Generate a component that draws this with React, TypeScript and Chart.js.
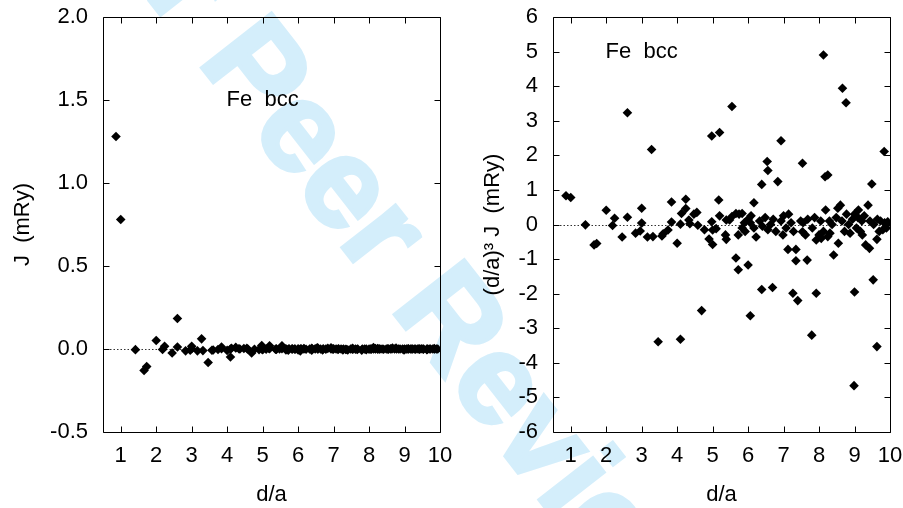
import React, { useEffect, useRef } from 'react';
import { Chart, registerables } from 'chart.js';

Chart.register(...registerables);

// Neighbour-shell distances d/a (bcc Fe)
const shellD = [
  0.866, 1.000, 1.414, 1.658, 1.732, 2.000, 2.179, 2.236, 2.449, 2.598,
  2.598, 2.828, 2.958, 3.000, 3.000, 3.162, 3.279, 3.317, 3.464, 3.571,
  3.606, 3.742, 3.841, 3.841, 4.000, 4.093, 4.093, 4.123, 4.243, 4.243,
  4.330, 4.359, 4.472, 4.555, 4.583, 4.690, 4.770, 4.899, 4.975, 4.975,
  5.000, 5.000, 5.099, 5.172, 5.196, 5.196, 5.362, 5.385, 5.385, 5.477,
  5.545, 5.545, 5.657, 5.657, 5.723, 5.723, 5.745, 5.831, 5.831, 5.895,
  5.916, 6.000, 6.000, 6.062, 6.062, 6.083, 6.164, 6.164, 6.225, 6.325,
  6.384, 6.384, 6.403, 6.481, 6.538, 6.557, 6.557, 6.633, 6.689, 6.708,
  6.782, 6.837, 6.928, 6.928, 6.982, 7.000, 7.071, 7.124, 7.141, 7.211,
  7.263, 7.280, 7.348, 7.348, 7.399, 7.483, 7.533, 7.533, 7.550, 7.616,
  7.665, 7.681, 7.794, 7.810, 7.874, 7.921, 7.921, 8.000, 8.047, 8.062,
  8.124, 8.124, 8.170, 8.185, 8.246, 8.246, 8.292, 8.307, 8.367, 8.411,
  8.485, 8.529, 8.544, 8.602, 8.646, 8.660, 8.718, 8.761, 8.775, 8.832,
  8.874, 8.944, 8.986, 9.000, 9.000, 9.055, 9.097, 9.110, 9.165, 9.206,
  9.220, 9.274, 9.314, 9.381, 9.421, 9.434, 9.487, 9.526, 9.539, 9.631,
  9.631, 9.644, 9.695, 9.734, 9.798, 9.836, 9.849, 9.899, 9.937,
];

// J (mRy), left panel
const jValues = [
  1.28, 0.78, -0.004, -0.129, -0.106, 0.051, -0.003, 0.016, -0.024, 0.184,
  0.012, -0.011, -0.007, 0.017, 0.0015, -0.011, 0.061, -0.0096, -0.081, -0.0073,
  -0.0058, -0.0031, 0.0115, 0.0012, -0.0084, -0.048, 0.0001, 0.0046, 0.0096, 0.006,
  0.0016, 0.0002, 0.0034, 0.0037, -0.0002, -0.0241, -0.0014, -0.0036, 0.0208, 0.0006,
  -0.0046, -0.0013, -0.0009, 0.0051, 0.019, 0.0018, -0.0019, -0.0028, 0.0008, 0.0008,
  0.02, 0.0013, -0.0054, 0.0018, -0.007, -0.0016, 0.0016, 0.0016, -0.0005, 0.0002,
  -0.001, -0.0054, 0.0007, -0.0118, 0.0002, 0.0011, 0.0027, -0.0004, -0.0015, 0.0004,
  -0.0072, 0.0045, -0.0002, 0.0007, 0.0065, 0.0055, -0.0005, 0.0, -0.0061, 0.0005,
  -0.0006, 0.0039, 0.0073, 0.0003, -0.0009, 0.0007, -0.0003, -0.002, 0.0008, 0.0001,
  -0.0052, -0.0005, -0.0026, -0.0018, -0.0054, 0.0002, 0.0041, -0.0005, 0.0001, -0.0007,
  -0.0023, 0.0003, -0.0068, -0.0002, 0.0004, -0.004, -0.0009, -0.0006, 0.0002, -0.0008,
  0.0091, -0.0004, 0.0025, 0.0008, 0.0026, -0.0006, 0.0002, -0.0004, 0.0, -0.0015,
  0.0003, 0.0008, -0.0009, 0.0009, 0.0002, 0.0061, -0.0003, 0.0052, 0.0004, 0.0,
  -0.0004, 0.0002, -0.0064, -0.0027, 0.0004, -0.0001, 0.0003, 0.0006, -0.0003, 0.0001,
  -0.0004, 0.0003, -0.0007, 0.0007, -0.0008, 0.0001, 0.0014, -0.0019, 0.0, -0.004,
  -0.0005, 0.0002, -0.0002, 0.0001, -0.0002, 0.0022, 0.0001, -0.0001, 0.0001,
];

// (d/a)^3 J (mRy), right panel
const scaledJValues = [
  0.83, 0.78, -0.01, -0.59, -0.55, 0.41, -0.03, 0.18, -0.36, 3.23,
  0.21, -0.25, -0.19, 0.47, 0.04, -0.36, 2.17, -0.35, -3.39, -0.33,
  -0.27, -0.16, 0.65, 0.07, -0.54, -3.32, 0.01, 0.32, 0.73, 0.46,
  0.13, 0.02, 0.30, 0.35, -0.02, -2.49, -0.15, -0.42, 2.56, 0.08,
  -0.58, -0.16, -0.12, 0.71, 2.66, 0.25, -0.30, -0.43, 0.13, 0.13,
  3.41, 0.23, -0.97, 0.32, -1.31, -0.30, 0.30, 0.32, -0.10, 0.05,
  -0.20, -1.17, 0.15, -2.64, 0.05, 0.25, 0.63, -0.10, -0.36, 0.10,
  -1.88, 1.16, -0.05, 0.20, 1.82, 1.56, -0.15, 0.00, -1.82, 0.15,
  -0.20, 1.24, 2.42, 0.10, -0.30, 0.25, -0.10, -0.72, 0.30, 0.05,
  -1.99, -0.20, -1.05, -0.72, -2.20, 0.10, 1.77, -0.21, 0.05, -0.30,
  -1.03, 0.15, -3.20, -0.10, 0.20, -1.99, -0.45, -0.30, 0.10, -0.40,
  4.90, -0.20, 1.38, 0.42, 1.43, -0.35, 0.10, -0.25, 0.00, -0.88,
  0.20, 0.47, -0.54, 0.56, 0.10, 3.94, -0.20, 3.52, 0.30, 0.00,
  -0.25, 0.15, -4.66, -1.95, 0.30, -0.10, 0.20, 0.42, -0.20, 0.10,
  -0.30, 0.25, -0.59, 0.56, -0.69, 0.10, 1.17, -1.60, 0.00, -3.53,
  -0.43, 0.15, -0.20, 0.10, -0.15, 2.11, 0.05, -0.10, 0.08,
];

const xTickValues = [1, 2, 3, 4, 5, 6, 7, 8, 9, 10];
const leftYTickValues = [-0.5, 0.0, 0.5, 1.0, 1.5, 2.0];
const rightYTickValues = [-6, -5, -4, -3, -2, -1, 0, 1, 2, 3, 4, 5, 6];

const xTitle = 'd/a';
const leftYTitle = 'J  (mRy)';
const rightYTitle = '(d/a)\u00B3 J  (mRy)';
const panelLabel = 'Fe  bcc';
const leftLabelAt = { x: 5.0, y: 1.5 };
const rightLabelAt = { x: 3.0, y: 5.0 };
const watermarkText = 'For Peer Review';

const FONT = 'Liberation Sans';
const FONT_SIZE = 22;

const gnuplotFrame = {
  id: 'gnuplotFrame',
  beforeDatasetsDraw(chart: any) {
    const { ctx, chartArea: a, scales } = chart;
    const y0 = Math.round(scales.y.getPixelForValue(0)) + 0.5;
    ctx.save();
    ctx.strokeStyle = '#333';
    ctx.lineWidth = 1;
    ctx.setLineDash([1.5, 2]);
    ctx.beginPath();
    ctx.moveTo(a.left, y0);
    ctx.lineTo(a.right, y0);
    ctx.stroke();
    ctx.restore();
  },
  afterDatasetsDraw(chart: any, _args: any, opts: any) {
    const { ctx, chartArea: a, scales } = chart;
    const L = Math.round(a.left) + 0.5;
    const R = Math.round(a.right) + 0.5;
    const T = Math.round(a.top) + 0.5;
    const B = Math.round(a.bottom) + 0.5;
    const tl = 6;
    ctx.save();
    ctx.strokeStyle = '#000';
    ctx.lineWidth = 1;
    ctx.beginPath();
    ctx.rect(L, T, R - L, B - T);
    for (const t of scales.x.ticks) {
      const x = Math.round(scales.x.getPixelForValue(t.value)) + 0.5;
      ctx.moveTo(x, B); ctx.lineTo(x, B - tl);
      ctx.moveTo(x, T); ctx.lineTo(x, T + tl);
    }
    for (const t of scales.y.ticks) {
      const y = Math.round(scales.y.getPixelForValue(t.value)) + 0.5;
      ctx.moveTo(L, y); ctx.lineTo(L + tl, y);
      ctx.moveTo(R, y); ctx.lineTo(R - tl, y);
    }
    ctx.stroke();
    if (opts && opts.label) {
      ctx.fillStyle = '#000';
      ctx.font = `${FONT_SIZE}px "${FONT}"`;
      ctx.textAlign = 'center';
      ctx.textBaseline = 'middle';
      ctx.fillText(opts.label, scales.x.getPixelForValue(opts.at.x), scales.y.getPixelForValue(opts.at.y));
    }
    ctx.restore();
  },
};

function makeConfig(
  yValues: number[],
  yMin: number,
  yMax: number,
  yTicks: number[],
  yFmt: (v: number) => string,
  yTitle: string,
  titlePad: number,
  padding: any,
  yWidth: number,
  label: string,
  at: { x: number; y: number }
): any {
  const font = { family: FONT, size: FONT_SIZE };
  return {
    type: 'scatter',
    data: {
      datasets: [
        {
          data: shellD.map((d, i) => ({ x: d, y: yValues[i] })),
          pointStyle: 'rectRot',
          pointRadius: 4.8,
          pointBackgroundColor: '#000',
          pointBorderColor: '#000',
          pointBorderWidth: 0,
          showLine: false,
        },
      ],
    },
    options: {
      responsive: false,
      animation: false,
      events: [],
      devicePixelRatio: 1,
      layout: { padding },
      plugins: {
        legend: { display: false },
        tooltip: { enabled: false },
        gnuplotFrame: { label, at },
      },
      scales: {
        x: {
          type: 'linear',
          min: 0.5,
          max: 10,
          grid: { display: false, drawTicks: false },
          border: { display: false },
          afterBuildTicks: (s: any) => {
            s.ticks = xTickValues.map((v) => ({ value: v }));
          },
          afterFit: (s: any) => {
            s.height = 76;
            s.paddingLeft = 0;
            s.paddingRight = 0;
          },
          ticks: {
            color: '#000',
            font,
            padding: 11,
            maxRotation: 0,
            autoSkip: false,
            callback: (v: any) => String(v),
          },
          title: {
            display: true,
            text: xTitle,
            color: '#000',
            font,
            padding: { top: 0, bottom: 0 },
          },
        },
        y: {
          type: 'linear',
          min: yMin,
          max: yMax,
          grid: { display: false, drawTicks: false },
          border: { display: false },
          afterBuildTicks: (s: any) => {
            s.ticks = yTicks.map((v) => ({ value: v }));
          },
          afterFit: (s: any) => {
            s.width = yWidth;
            s.paddingTop = 0;
            s.paddingBottom = 0;
          },
          ticks: {
            color: '#000',
            font,
            padding: 15,
            autoSkip: false,
            callback: (v: any) => yFmt(Number(v)),
          },
          title: {
            display: true,
            text: yTitle,
            color: '#000',
            font,
            padding: { top: titlePad, bottom: 0 },
          },
        },
      },
    },
    plugins: [gnuplotFrame],
  };
}

export default function App() {
  const leftRef = useRef<HTMLCanvasElement>(null);
  const rightRef = useRef<HTMLCanvasElement>(null);

  useEffect(() => {
    const left = new Chart(
      leftRef.current as HTMLCanvasElement,
      makeConfig(
        jValues, -0.5, 2.0, leftYTickValues, (v) => v.toFixed(1), leftYTitle, 9.5,
        { left: 0, top: 17, right: 463, bottom: 0 }, 103, panelLabel, leftLabelAt
      )
    );
    const right = new Chart(
      rightRef.current as HTMLCanvasElement,
      makeConfig(
        scaledJValues, -6, 6, rightYTickValues, (v) => String(v), rightYTitle, 29,
        { left: 451, top: 17, right: 13, bottom: 0 }, 102, panelLabel, rightLabelAt
      )
    );
    return () => {
      left.destroy();
      right.destroy();
    };
  }, []);

  const canvasStyle: React.CSSProperties = {
    position: 'absolute',
    left: 0,
    top: 0,
    width: 903,
    height: 508,
  };

  return (
    <div
      style={{
        position: 'absolute',
        left: 0,
        top: 0,
        width: 903,
        height: 508,
        overflow: 'hidden',
        background: '#fff',
      }}
    >
      <div
        style={{
          position: 'absolute',
          left: 133,
          top: -196,
          fontFamily: '"Liberation Sans", Arial, sans-serif',
          fontWeight: 'bold',
          fontSize: 128,
          lineHeight: '128px',
          whiteSpace: 'nowrap',
          color: 'rgb(212, 238, 251)',
          WebkitTextStroke: '4px rgb(212, 238, 251)',
          transformOrigin: '0 0',
          transform: 'rotate(52deg)',
        }}
      >
        {watermarkText}
      </div>
      <canvas ref={leftRef} width={903} height={508} style={canvasStyle} />
      <canvas ref={rightRef} width={903} height={508} style={canvasStyle} />
    </div>
  );
}
